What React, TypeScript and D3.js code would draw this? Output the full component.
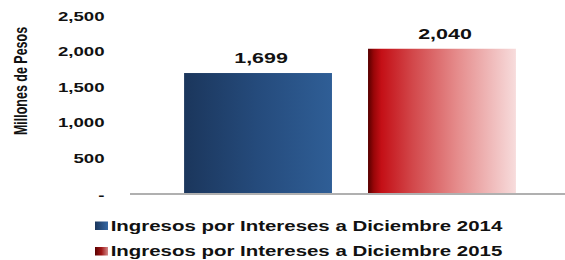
import React, { useRef, useEffect } from 'react';
import * as d3 from 'd3';

const categories = ['2014', '2015'];
const values = [1699, 2040];
const legendLabels = [
  'Ingresos por Intereses a Diciembre 2014',
  'Ingresos por Intereses a Diciembre 2015',
];
const yTicks = [0, 500, 1000, 1500, 2000, 2500];
const yLabel = 'Millones de Pesos';

const W = 565;
const H = 260;
const FONT = '"Liberation Sans", Arial, sans-serif';
const STRETCH = 1.43; // the source picture is stretched sideways

const App: React.FC = () => {
  const svgRef = useRef<SVGSVGElement>(null);

  useEffect(() => {
    if (!svgRef.current) return;
    const svg = d3.select(svgRef.current);
    svg.selectAll('*').remove();

    const x = d3.scaleBand<string>()
      .domain(categories)
      .range([130, 570])
      .paddingInner(0.196)
      .paddingOuter(0.294);

    const y = d3.scaleLinear()
      .domain([0, 2500])
      .range([194, 16]);

    // gradients
    const defs = svg.append('defs');
    const grad = (id: string, stops: [number, string][]) => {
      const g = defs.append('linearGradient')
        .attr('id', id)
        .attr('x1', '0%').attr('x2', '100%')
        .attr('y1', '0%').attr('y2', '0%');
      stops.forEach(([o, c]) => g.append('stop').attr('offset', o).attr('stop-color', c));
    };
    grad('blueBar', [[0, '#1b365c'], [0.5, '#254b7c'], [1, '#2f5e96']]);
    grad('redBar', [[0, '#560000'], [0.04, '#9a0608'], [0.09, '#c40f16'], [0.3, '#d2474a'], [0.6, '#e58b8b'], [1, '#f7dcdc']]);
    grad('blueKey', [[0, '#1b365c'], [1, '#3467a4']]);
    grad('redKey', [[0, '#5a0000'], [0.5, '#a01818'], [1, '#d48a8a']]);
    const barFills = ['url(#blueBar)', 'url(#redBar)'];
    const keyFills = ['url(#blueKey)', 'url(#redKey)'];

    // y tick labels
    svg.append('g')
      .selectAll('text')
      .data(yTicks)
      .enter()
      .append('text')
      .attr('transform', d => `translate(104.5,${y(d)}) scale(${STRETCH},1)`)
      .attr('dy', d => (d === 0 ? '0.45em' : '0.36em'))
      .attr('text-anchor', 'end')
      .style('font-family', FONT)
      .style('font-weight', 'bold')
      .style('font-size', '13px')
      .style('fill', '#111')
      .text(d => (d === 0 ? '-' : d3.format(',')(d)));

    // y axis title
    svg.append('text')
      .attr('transform', `translate(27,81) scale(${STRETCH},1) rotate(-90)`)
      .attr('text-anchor', 'middle')
      .style('font-family', FONT)
      .style('font-weight', 'bold')
      .style('font-size', '12.5px')
      .style('fill', '#111')
      .text(yLabel);

    // bars
    svg.append('g')
      .selectAll('rect')
      .data(values)
      .enter()
      .append('rect')
      .attr('x', (_, i) => x(categories[i])!)
      .attr('y', d => y(d))
      .attr('width', x.bandwidth())
      .attr('height', d => y(0) - y(d))
      .attr('fill', (_, i) => barFills[i]);

    // value labels
    svg.append('g')
      .selectAll('text')
      .data(values)
      .enter()
      .append('text')
      .attr('transform', (d, i) =>
        `translate(${x(categories[i])! + x.bandwidth() / 2 + 3},${y(d) - 10}) scale(${STRETCH},1)`)
      .attr('text-anchor', 'middle')
      .style('font-family', FONT)
      .style('font-weight', 'bold')
      .style('font-size', '15px')
      .style('fill', '#111')
      .text(d => d3.format(',')(d));

    // baseline
    svg.append('line')
      .attr('x1', 130)
      .attr('x2', 570)
      .attr('y1', y(0))
      .attr('y2', y(0))
      .attr('stroke', '#b0b0b0')
      .attr('stroke-width', 2);

    // legend
    const legend = svg.append('g')
      .selectAll('g')
      .data(legendLabels)
      .enter()
      .append('g')
      .attr('transform', (_, i) => `translate(95,${226 + i * 25.5})`);

    legend.append('rect')
      .attr('x', 0)
      .attr('y', -4.5)
      .attr('width', 13)
      .attr('height', 8.5)
      .attr('fill', (_, i) => keyFills[i]);

    legend.append('text')
      .attr('transform', `translate(15.7,4.8) scale(1.46,1)`)
      .style('font-family', FONT)
      .style('font-weight', 'bold')
      .style('font-size', '14px')
      .style('fill', '#111')
      .text(d => d);
  }, []);

  return (
    <svg
      ref={svgRef}
      width={W}
      height={H}
      style={{ position: 'absolute', left: 0, top: 0, background: '#fff' }}
    />
  );
};

export default App;
